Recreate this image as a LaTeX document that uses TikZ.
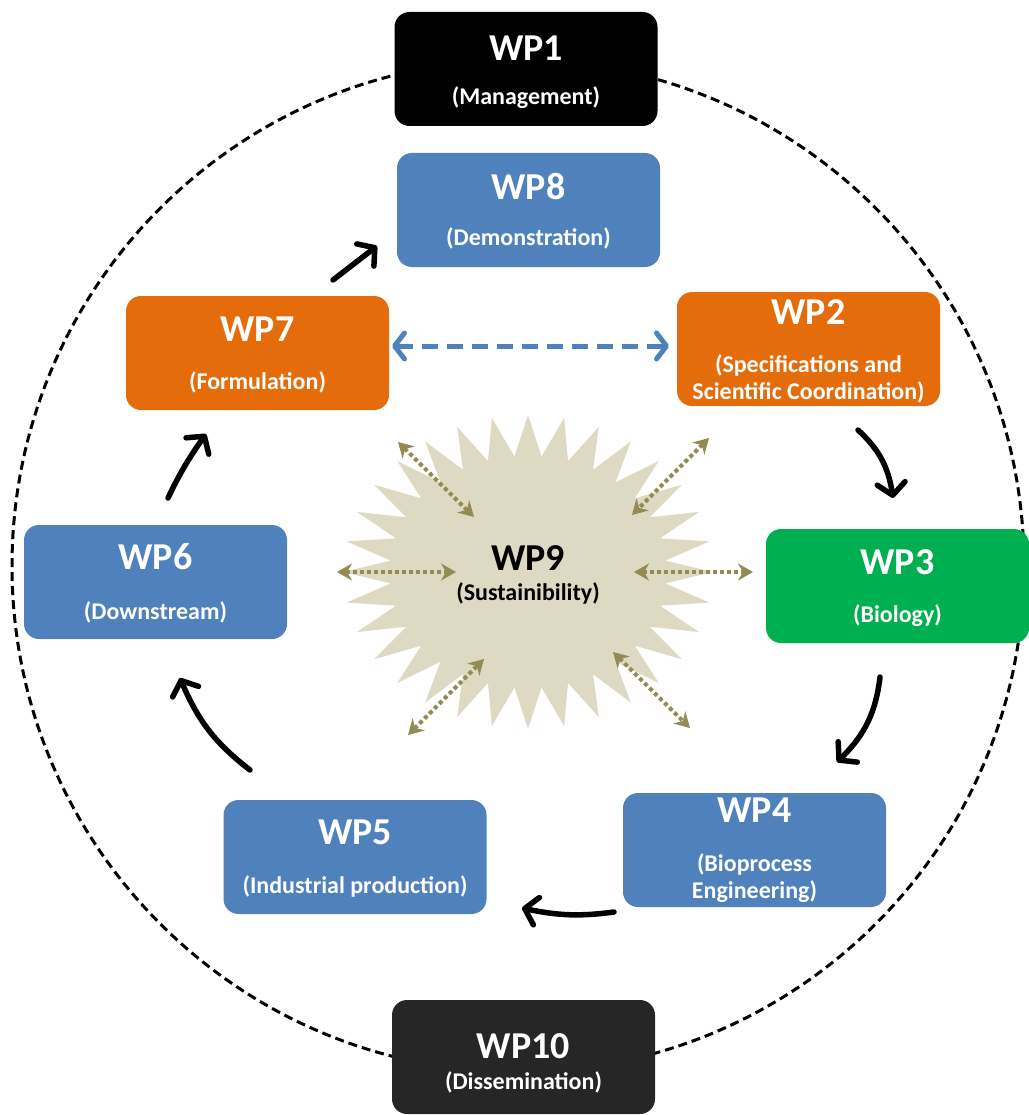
\documentclass[tikz,border=0pt]{standalone}
\usepackage{fontspec}
\setmainfont{Carlito}
\usetikzlibrary{arrows.meta,bending}
\definecolor{wpblue}{HTML}{4F81BD}
\definecolor{wporange}{HTML}{E46C0A}
\definecolor{wpgreen}{HTML}{00B050}
\definecolor{wpdark}{HTML}{262626}
\definecolor{burstfill}{HTML}{DDD9C3}
\definecolor{olive}{HTML}{948A54}
\newcommand\wpttl{\fontsize{38}{42}\selectfont\bfseries}
\newcommand\wpsub{\fontsize{24}{27}\selectfont\bfseries}
\begin{document}
\begin{tikzpicture}[x=1pt,y=-1pt,
  wpbox/.style={rounded corners=15pt, minimum width=263pt, minimum height=114pt, inner sep=0pt},
  ttl/.style={text=white, font=\wpttl, inner sep=0pt},
  sub/.style={text=white, font=\wpsub, align=center, inner sep=0pt},
  flow/.style={line width=5.5pt, line cap=round, -{Straight Barb[length=12pt,width=28pt,round]}},
  link/.style={line width=4pt, olive, dash pattern=on 4pt off 3pt, {Stealth[length=15pt,width=17pt,inset=5pt]}-{Stealth[length=15pt,width=17pt,inset=5pt]}},
  ring/.style={line width=3pt, dash pattern=on 9pt off 5pt}]
\useasboundingbox (0,0) rectangle (1028,1115);

% outer dashed ring
\draw[ring] (518,566) circle[radius=506pt];

% central sustainability burst
\begin{scope}[shift={(528,572)}]
  \fill[burstfill] (0:185 and 157)
    \foreach \i in {0,...,31}{ -- ({\i*11.25+5.625}:138 and 116) -- ({(\i+1)*11.25}:185 and 157)} -- cycle;
\end{scope}
\node[font=\wpttl, inner sep=0pt] (wp9t) at (528,558) {WP9};
\node[font=\wpsub, inner sep=0pt] (wp9s) at (528,593) {(Sustainibility)};

% work package boxes
\node[wpbox, fill=black]     (wp1)  at (526,69)    {};
\node[wpbox, fill=wpblue]    (wp8)  at (528.5,210) {};
\node[wpbox, fill=wporange]  (wp7)  at (257.5,353) {};
\node[wpbox, fill=wporange]  (wp2)  at (808.5,349) {};
\node[wpbox, fill=wpblue]    (wp6)  at (155.5,582) {};
\node[wpbox, fill=wpgreen]   (wp3)  at (897.5,586) {};
\node[wpbox, fill=wpblue]    (wp5)  at (355,857)   {};
\node[wpbox, fill=wpblue]    (wp4)  at (754.5,850) {};
\node[wpbox, fill=wpdark]    (wp10) at (523.5,1057){};

% box texts
\node[ttl] (wp1t)  at (526,48)    {WP1};
\node[sub] (wp1s)  at (526,98)    {(Management)};
\node[ttl] (wp8t)  at (528.5,187) {WP8};
\node[sub] (wp8s)  at (528.5,238) {(Demonstration)};
\node[ttl] (wp7t)  at (257.5,329) {WP7};
\node[sub] (wp7s)  at (257.5,382) {(Formulation)};
\node[ttl] (wp2t)  at (808.5,312) {WP2};
\node[sub] (wp2s)  at (808.5,379) {(Specifications and\\Scientific Coordination)};
\node[ttl] (wp6t)  at (155.5,557) {WP6};
\node[sub] (wp6s)  at (155.5,612) {(Downstream)};
\node[ttl] (wp3t)  at (897.5,562) {WP3};
\node[sub] (wp3s)  at (897.5,616) {(Biology)};
\node[ttl] (wp5t)  at (355,832)   {WP5};
\node[sub] (wp5s)  at (355,886)   {(Industrial production)};
\node[ttl] (wp4t)  at (754.5,810) {WP4};
\node[sub] (wp4s)  at (754.5,878) {(Bioprocess\\Engineering)};
\node[ttl] (wp10t) at (523.5,1046){WP10};
\node[sub] (wp10s) at (523.5,1082){(Dissemination)};

% flow arrows around the cycle
\coordinate (a72s) at (333,280); \coordinate (a72e) at (377,246);
\coordinate (a67s) at (168,498); \coordinate (a67e) at (206,434);
\coordinate (a23s) at (858,430); \coordinate (a23e) at (893,498);
\coordinate (a34s) at (880,677); \coordinate (a34e) at (837,762);
\coordinate (a45s) at (614,912); \coordinate (a45e) at (522,908);
\coordinate (a56s) at (250,770); \coordinate (a56e) at (180,678);
\draw[flow] (a72s) -- (a72e);
\draw[flow] (a67s) to[bend left=5] (a67e);
\draw[flow] (a23s) to[bend left=20] (a23e);
\draw[flow] (a34s) to[bend left=20] (a34e);
\draw[flow] (a45s) to[bend left=10] (a45e);
\draw[flow] (a56s) to[bend left=15] (a56e);

% WP7 <-> WP2 exchange
\coordinate (x7) at (392,346); \coordinate (x2) at (669,346);
\draw[wpblue, line width=5pt, dash pattern=on 16pt off 9pt,
  {Straight Barb[length=10pt,width=26pt,round]}-{Straight Barb[length=10pt,width=26pt,round]}] (x7) -- (x2);

% sustainability links
\coordinate (s1a) at (398,442); \coordinate (s1b) at (474,517);
\coordinate (s2a) at (709,438); \coordinate (s2b) at (632,515);
\coordinate (s3a) at (337,572); \coordinate (s3b) at (456,572);
\coordinate (s4a) at (634,572); \coordinate (s4b) at (753,572);
\coordinate (s5a) at (408,735); \coordinate (s5b) at (484,659);
\coordinate (s6a) at (613,652); \coordinate (s6b) at (690,728);
\foreach \p in {1,...,6}{\draw[link] (s\p a) -- (s\p b);}
\end{tikzpicture}
\end{document}
